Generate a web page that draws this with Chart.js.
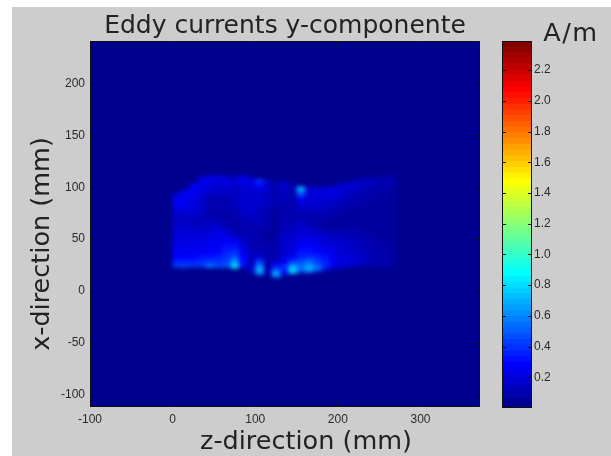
<!DOCTYPE html>
<html>
<head>
<meta charset="utf-8">
<title>Eddy currents y-componente</title>
<script src="https://cdn.jsdelivr.net/npm/chart.js@4"></script>
<style>
html, body { margin: 0; padding: 0; background: #fff; overflow: hidden; }
#figure { position: absolute; left: 12px; top: 7px; right: 0; bottom: 0; background: #cdcdcd; }
canvas { position: absolute; left: 0; top: 0; }
</style>
</head>
<body>
<div id="figure"></div>
<canvas id="fieldChart" width="611" height="456"></canvas>
<canvas id="barChart" width="611" height="456"></canvas>
<script>
'use strict';

const zTicks = [ -100, 0, 100, 200, 300 ];
const xTicks = [ -100, -50, 0, 50, 100, 150, 200 ];
const colorTicks = [ 0.2, 0.4, 0.6, 0.8, 1, 1.2, 1.4, 1.6, 1.8, 2, 2.2 ];
const colorMax = 2.39;

// 測定領域の列の中心 (z, mm) と、列ごとの上端・下端 (x, mm)
const zCenters = [ 5.5, 15.5, 25.5, 35.5, 45.5, 55.5, 65.5, 75.5, 85.5, 95.5, 105.5, 115.5, 125.5, 135.5,
    145.5, 155.5, 165.5, 175.5, 185.5, 195.5, 205.5, 215.5, 225.5, 235.5, 245.5, 255.5, 265.5 ];
const topEdge = [ 93, 97, 103, 109, 111, 111, 110, 110, 110, 109, 107.5, 105.5, 105, 105,
    103, 100.5, 99.5, 99.5, 100, 101, 103, 105, 107, 108, 109, 110, 110.5 ];
const bottomEdge = [ 23, 23, 23.5, 23, 22.5, 22.5, 23, 22, 23, 19, 16, 16, 13.5, 16,
    17, 18, 18, 19, 21, 22, 23, 24, 25, 25, 24, 23, 22 ];

// 行の中心 (x, mm)。currents の各行に対応する
const xCenters = [ 112.5, 107.5, 102.5, 97.5, 92.5, 87.5, 82.5, 77.5, 72.5, 67.5, 62.5,
    57.5, 52.5, 47.5, 42.5, 37.5, 32.5, 27.5, 22.5, 17.5, 12.5 ];
const currents = [
    [ .20, .20, .20, .22, .26, .20, .24, .18, .30, .22, .46, .20, .10, .24, .10, .20, .12, .15, .15, .15, .15, .17, .17, .17, .14, .12, .10 ],
    [ .20, .20, .22, .24, .24, .20, .22, .16, .28, .20, .42, .18, .09, .22, .10, .30, .14, .16, .18, .18, .17, .17, .16, .15, .13, .11, .09 ],
    [ .20, .24, .27, .24, .22, .18, .19, .15, .22, .20, .32, .16, .08, .18, .09, .52, .18, .18, .20, .20, .19, .17, .15, .13, .11, .09, .08 ],
    [ .24, .28, .26, .22, .18, .16, .16, .14, .18, .18, .22, .15, .08, .16, .08, .68, .20, .20, .21, .21, .18, .15, .13, .11, .09, .08, .06 ],
    [ .26, .26, .24, .20, .14, .12, .13, .13, .16, .16, .18, .14, .08, .14, .08, .44, .18, .19, .20, .19, .16, .13, .11, .09, .07, .06, .05 ],
    [ .25, .25, .22, .18, .11, .09, .11, .12, .15, .15, .16, .13, .08, .12, .08, .24, .17, .17, .18, .16, .14, .11, .09, .08, .06, .05, .05 ],
    [ .24, .23, .20, .17, .11, .08, .09, .12, .15, .15, .15, .12, .08, .11, .08, .17, .15, .15, .15, .13, .11, .09, .08, .06, .05, .05, .05 ],
    [ .22, .21, .18, .15, .11, .08, .08, .11, .15, .15, .14, .11, .07, .10, .08, .13, .13, .12, .12, .10, .09, .07, .06, .05, .05, .04, .04 ],
    [ .18, .18, .15, .12, .11, .09, .07, .09, .13, .15, .13, .10, .07, .10, .09, .11, .11, .09, .09, .08, .07, .06, .05, .05, .04, .04, .04 ],
    [ .14, .14, .13, .11, .12, .11, .08, .08, .11, .14, .12, .09, .07, .11, .10, .12, .11, .08, .07, .06, .05, .05, .05, .04, .04, .04, .04 ],
    [ .16, .16, .14, .14, .16, .16, .11, .07, .09, .11, .10, .08, .07, .12, .12, .15, .14, .10, .07, .06, .06, .06, .06, .05, .05, .05, .04 ],
    [ .18, .18, .18, .18, .18, .20, .17, .11, .08, .09, .09, .07, .07, .14, .14, .18, .18, .14, .11, .09, .09, .09, .08, .07, .06, .05, .04 ],
    [ .20, .20, .20, .20, .22, .23, .22, .17, .11, .08, .08, .07, .07, .15, .16, .21, .22, .19, .15, .13, .12, .11, .10, .09, .07, .06, .05 ],
    [ .22, .22, .22, .22, .24, .25, .27, .24, .15, .09, .08, .07, .08, .16, .18, .24, .25, .22, .18, .16, .15, .13, .12, .10, .08, .07, .05 ],
    [ .24, .24, .24, .24, .25, .25, .30, .32, .20, .11, .09, .08, .09, .16, .20, .26, .28, .25, .21, .19, .17, .15, .13, .11, .09, .08, .06 ],
    [ .26, .26, .26, .26, .27, .28, .34, .38, .24, .12, .11, .09, .10, .17, .22, .30, .32, .28, .25, .21, .18, .17, .14, .12, .10, .08, .06 ],
    [ .28, .28, .28, .30, .32, .34, .38, .48, .28, .12, .18, .08, .10, .20, .26, .36, .40, .35, .30, .24, .20, .18, .15, .13, .10, .08, .07 ],
    [ .36, .36, .36, .38, .44, .38, .44, .66, .30, .12, .44, .08, .18, .26, .44, .46, .54, .44, .34, .26, .22, .19, .16, .13, .10, .08, .07 ],
    [ .46, .50, .48, .44, .58, .46, .54, .84, .30, .14, .64, .08, .34, .40, .74, .56, .70, .54, .36, .26, .22, .19, .16, .13, .10, .08, .07 ],
    [ .40, .40, .40, .40, .40, .40, .40, .40, .30, .30, .70, .14, .66, .30, .80, .50, .60, .45, .20, .20, .20, .20, .20, .20, .20, .20, .20 ],
    [ .40, .40, .40, .40, .40, .40, .40, .40, .30, .30, .70, .14, .66, .30, .80, .50, .60, .45, .20, .20, .20, .20, .20, .20, .20, .20, .20 ],
];

// MATLAB の jet カラーマップ (64 階調)
const jetColors = [
    '#00008f', '#00009f', '#0000af', '#0000bf', '#0000cf', '#0000df', '#0000ef', '#0000ff',
    '#000fff', '#001fff', '#002fff', '#003fff', '#004fff', '#005fff', '#006fff', '#007fff',
    '#008fff', '#009fff', '#00afff', '#00bfff', '#00cfff', '#00dfff', '#00efff', '#00ffff',
    '#0fffef', '#1fffdf', '#2fffcf', '#3fffbf', '#4fffaf', '#5fff9f', '#6fff8f', '#7fff7f',
    '#8fff6f', '#9fff5f', '#afff4f', '#bfff3f', '#cfff2f', '#dfff1f', '#efff0f', '#ffff00',
    '#ffef00', '#ffdf00', '#ffcf00', '#ffbf00', '#ffaf00', '#ff9f00', '#ff8f00', '#ff7f00',
    '#ff6f00', '#ff5f00', '#ff4f00', '#ff3f00', '#ff2f00', '#ff1f00', '#ff0f00', '#ff0000',
    '#ef0000', '#df0000', '#cf0000', '#bf0000', '#af0000', '#9f0000', '#8f0000', '#800000',
];

const tickFont = { family: '"Liberation Sans"', size: 12 };
const tickColor = '#2a2a2a';
const labelFont = '25.5px "DejaVu Sans"';

/**
 * 電流値を jet の色に変換する
 *
 * @param { number } value - 値 (A/m)
 * @returns { string } 色
 */
function
colorOf(value)
{
    const index = Math.min(63, Math.floor(value / colorMax * 64));
    return jetColors[index];
}

/**
 * currents から浮動棒のセルを組み立てる。測定領域の外にはセルを作らない
 *
 * @returns { { x: number, y: number[2], v: number }[] } セルの配列
 */
function
buildCells()
{
    const cells = [];
    xCenters.forEach((x, row) => {
        zCenters.forEach((z, col) => {
            const hi = Math.min(x + 2.5, topEdge[col]);
            const lo = Math.max(x - 2.5, bottomEdge[col]);
            if (hi > lo) {
                cells.push({ x: z, y: [ lo, hi ], v: currents[row][col] });
            }
        });
    });
    return cells;
}

// 枠と内向きの目盛を描く
const framePlugin = {
    id: 'frame',
    afterDraw(chart) {
        const { ctx, chartArea: area, scales } = chart;
        ctx.save();
        ctx.strokeStyle = '#111';
        ctx.lineWidth = 1;
        ctx.beginPath();
        ctx.rect(area.left + 0.5, area.top + 0.5, area.width - 1, area.height - 1);
        for (const tick of scales.x.options.display ? scales.x.ticks : []) {
            const px = Math.round(scales.x.getPixelForValue(tick.value)) + 0.5;
            ctx.moveTo(px, area.top);
            ctx.lineTo(px, area.top + 4);
            ctx.moveTo(px, area.bottom);
            ctx.lineTo(px, area.bottom - 4);
        }
        for (const tick of scales.y.ticks) {
            const py = Math.round(scales.y.getPixelForValue(tick.value)) + 0.5;
            ctx.moveTo(area.left, py);
            ctx.lineTo(area.left + 4, py);
            ctx.moveTo(area.right, py);
            ctx.lineTo(area.right - 4, py);
        }
        ctx.stroke();
        ctx.restore();
    },
};

// プロット領域の地の色と、セルの境目をなじませる処理
const fieldPlugin = {
    id: 'field',
    beforeDatasetsDraw(chart) {
        const { ctx, chartArea: area } = chart;
        ctx.save();
        ctx.fillStyle = jetColors[0];
        ctx.fillRect(area.left, area.top, area.width, area.height);
        ctx.restore();
    },
    afterDatasetsDraw(chart) {
        const { ctx, chartArea: area, canvas } = chart;
        ctx.save();
        ctx.beginPath();
        ctx.rect(area.left + 10, area.top + 10, area.width - 20, area.height - 20);
        ctx.clip();
        ctx.filter = 'blur(2px)';
        ctx.drawImage(canvas, 0, 0);
        ctx.restore();
    },
};

// 軸の題名 (中央がプロットの中央から外れているので自前で描く)
const axisLabelPlugin = {
    id: 'axisLabels',
    afterDraw(chart) {
        const { ctx } = chart;
        ctx.save();
        ctx.font = labelFont;
        ctx.fillStyle = '#222';
        ctx.textAlign = 'center';
        ctx.textBaseline = 'middle';
        ctx.fillText('z-direction (mm)', 306, 442);
        ctx.translate(42, 244);
        ctx.rotate(-Math.PI / 2);
        ctx.fillText('x-direction (mm)', 0, 0);
        ctx.restore();
    },
};

const unitPlugin = {
    id: 'unit',
    afterDraw(chart) {
        const { ctx } = chart;
        ctx.save();
        ctx.font = labelFont;
        ctx.letterSpacing = '1.5px';
        ctx.fillStyle = '#222';
        ctx.textAlign = 'center';
        ctx.textBaseline = 'middle';
        ctx.fillText('A/m', 571, 34);
        ctx.restore();
    },
};

/**
 * 渦電流の分布図を描く
 *
 * @param { HTMLCanvasElement } canvas - 表示に用いる canvas 要素
 * @returns 生成された chart インスタンス
 */
function
drawField(canvas)
{
    return new Chart(canvas, {
        type: 'bar',
        data: {
            datasets: [ {
                data: buildCells(),
                backgroundColor: context => colorOf(context.raw.v),
                barPercentage: 1,
                categoryPercentage: 1,
                grouped: false,
            } ],
        },
        plugins: [ fieldPlugin, framePlugin, axisLabelPlugin ],
        options: {
            responsive: false,
            animation: false,
            events: [],
            layout: { padding: { right: 131 } },
            plugins: {
                legend: { display: false },
                tooltip: { enabled: false },
                title: {
                    display: true,
                    text: 'Eddy currents y-componente',
                    fullSize: false,
                    color: '#222',
                    font: { family: '"DejaVu Sans"', size: 25, weight: 'normal', lineHeight: 1 },
                    padding: { top: 14, bottom: 2 },
                },
            },
            scales: {
                x: {
                    type: 'linear',
                    min: -100,
                    max: 372,
                    offset: false,
                    grid: { display: false, drawTicks: false },
                    border: { display: false },
                    afterFit(scale) { scale.height = 49; },
                    afterBuildTicks(scale) { scale.ticks = zTicks.map(value => ({ value })); },
                    ticks: { font: tickFont, color: tickColor, maxRotation: 0, autoSkip: false, padding: 5 },
                },
                y: {
                    type: 'linear',
                    min: -112,
                    max: 241,
                    grid: { display: false, drawTicks: false },
                    border: { display: false },
                    afterFit(scale) { scale.width = 90; },
                    afterBuildTicks(scale) { scale.ticks = xTicks.map(value => ({ value })); },
                    ticks: { font: tickFont, color: tickColor, autoSkip: false, padding: 5 },
                },
            },
        },
    });
}

/**
 * カラーバーを描く
 *
 * @param { HTMLCanvasElement } canvas - 表示に用いる canvas 要素
 * @returns 生成された chart インスタンス
 */
function
drawColorBar(canvas)
{
    const step = colorMax / jetColors.length;
    const datasets = jetColors.map((color, i) => ({
        data: [ [ i * step, (i + 1) * step ] ],
        backgroundColor: color,
        barPercentage: 1,
        categoryPercentage: 1,
        grouped: false,
    }));
    return new Chart(canvas, {
        type: 'bar',
        data: { labels: [ 'A/m' ], datasets },
        plugins: [ framePlugin, unitPlugin ],
        options: {
            responsive: false,
            animation: false,
            events: [],
            layout: { padding: { left: 502, top: 41, bottom: 48 } },
            plugins: {
                legend: { display: false },
                tooltip: { enabled: false },
            },
            scales: {
                x: { display: false },
                y: {
                    type: 'linear',
                    position: 'right',
                    min: 0,
                    max: colorMax,
                    grid: { display: false, drawTicks: false },
                    border: { display: false },
                    afterFit(scale) { scale.width = 79; },
                    afterBuildTicks(scale) { scale.ticks = colorTicks.map(value => ({ value })); },
                    ticks: { font: tickFont, color: tickColor, autoSkip: false, padding: 2 },
                },
            },
        },
    });
}

function
main()
{
    drawField(document.getElementById('fieldChart'));
    drawColorBar(document.getElementById('barChart'));
}

main();
/* ex: se et ts=4 : */
</script>
</body>
</html>
